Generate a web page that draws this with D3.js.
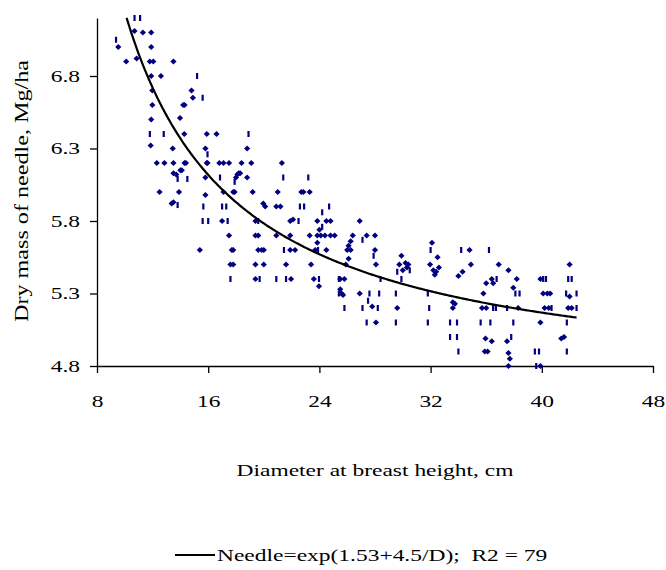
<!DOCTYPE html>
<html>
<head>
<meta charset="utf-8">
<script src="https://cdn.jsdelivr.net/npm/d3@7"></script>
<style>
  body { margin: 0; background: #fff; }
  text { font-family: "Liberation Serif", "Times New Roman", serif; fill: #000; }
</style>
</head>
<body>
<div id="chart"></div>
<script>
// tick labels
const xTicks = [8, 16, 24, 32, 40, 48];
const yTicks = [4.8, 5.3, 5.8, 6.3, 6.8];

// [diameter cm, dry mass], drawn as diamonds
const diamondPoints = [
  [9.53, 7.0], [10.1, 6.9], [10.7, 7.11], [11.3, 7.1], [11.9, 7.1], [10.85, 6.92], [11.9, 7.0],
  [11.8, 6.9], [12.05, 6.9], [11.9, 6.8], [12.6, 6.8], [11.98, 6.7], [11.98, 6.6], [11.9, 6.5],
  [11.86, 6.32], [12.3, 6.2], [12.85, 6.2], [12.5, 6.0], [13.5, 6.9], [14.8, 6.7], [14.9, 6.65],
  [14.2, 6.6], [14.3, 6.6], [13.97, 6.51], [14.28, 6.4], [13.45, 6.3], [13.5, 6.2], [14.3, 6.2],
  [14.4, 6.2], [13.5, 6.13], [13.7, 6.12], [14.0, 6.15], [14.1, 6.15], [13.9, 6.0], [15.9, 6.4],
  [16.6, 6.4], [15.8, 6.3], [15.9, 6.2], [15.95, 6.2], [16.8, 6.2], [17.1, 6.2], [17.5, 6.2],
  [18.4, 6.2], [19.1, 6.2], [18.8, 6.3], [15.8, 6.1], [18.0, 6.1], [18.1, 6.12], [18.2, 6.13],
  [18.3, 6.13], [18.8, 6.1], [21.3, 6.2], [15.8, 5.98], [17.1, 6.0], [17.8, 6.0], [17.9, 6.0],
  [19.2, 6.0], [21.0, 6.0], [22.7, 6.0], [22.85, 6.0], [23.3, 6.0],
  [13.37, 5.92], [13.5, 5.93], [19.96, 5.92], [20.1, 5.9], [20.9, 5.9], [21.2, 5.9], [17.0, 5.8],
  [19.4, 5.8], [21.9, 5.8], [22.1, 5.81], [23.85, 5.8], [24.5, 5.8], [24.8, 5.8], [17.5, 5.7],
  [19.4, 5.7], [19.6, 5.7], [20.9, 5.7], [21.9, 5.7], [23.3, 5.7], [23.85, 5.7], [24.0, 5.74],
  [24.1, 5.7], [24.4, 5.7], [24.8, 5.7], [25.1, 5.7], [23.85, 5.65], [15.4, 5.6], [17.7, 5.6],
  [17.8, 5.6], [19.6, 5.6], [19.85, 5.6], [20.0, 5.6], [21.9, 5.6], [22.25, 5.6], [23.7, 5.6],
  [24.5, 5.6], [17.6, 5.5], [17.8, 5.5], [19.4, 5.5], [20.0, 5.5], [21.6, 5.5], [23.4, 5.5],
  [19.4, 5.4], [21.96, 5.4], [23.6, 5.4], [23.97, 5.35],
  [26.9, 5.8], [27.4, 5.7], [28.0, 5.7], [26.4, 5.7], [26.25, 5.66], [26.1, 5.63], [26.0, 5.6],
  [26.25, 5.6], [26.1, 5.54], [25.9, 5.5], [28.0, 5.6], [28.07, 5.5], [25.5, 5.4], [25.8, 5.4],
  [25.5, 5.33], [25.6, 5.3], [25.7, 5.29], [26.9, 5.3], [27.8, 5.21], [28.07, 5.1], [29.75, 5.5],
  [29.9, 5.56], [30.2, 5.51], [30.4, 5.5], [30.3, 5.48], [30.0, 5.46], [29.6, 5.2], [32.1, 5.65],
  [31.96, 5.5], [32.2, 5.46], [32.3, 5.43], [32.4, 5.45], [32.5, 5.55], [32.6, 5.48], [33.6, 5.24],
  [33.75, 5.23], [33.6, 5.2], [34.0, 5.42], [34.3, 5.45], [34.8, 5.6], [34.9, 5.5], [35.8, 5.3],
  [36.0, 5.37], [35.7, 5.2], [36.0, 5.2], [36.4, 5.4], [36.5, 5.37], [35.95, 4.99], [36.4, 4.97],
  [35.9, 4.9], [36.1, 4.9], [36.9, 5.5], [37.6, 5.46], [37.95, 5.34], [38.2, 5.4], [38.3, 5.2],
  [37.5, 4.97], [37.6, 4.89], [37.7, 4.85], [37.6, 4.8], [39.9, 5.4], [40.1, 5.3], [40.4, 5.3],
  [40.6, 5.3], [40.2, 5.2], [40.5, 5.2], [39.9, 5.1], [39.9, 4.8], [42.0, 5.5], [42.0, 5.28],
  [41.9, 5.2], [42.15, 5.2], [41.4, 4.99], [41.6, 5.0]
];

// points that show up as thin vertical dashes in the picture
const dashPoints = [
  [9.37, 7.05], [10.7, 7.2], [11.1, 7.2], [11.8, 6.4], [12.8, 6.4], [15.2, 6.8], [15.6, 6.65],
  [13.8, 6.09], [14.5, 6.09], [15.95, 6.26], [18.9, 6.4], [16.85, 6.1], [17.9, 6.07], [21.4, 6.1],
  [23.2, 6.1],
  [13.8, 5.91], [15.65, 5.9], [17.0, 5.9], [17.3, 5.9], [22.6, 5.9], [22.9, 5.9], [24.2, 5.86],
  [24.7, 5.9], [15.6, 5.8], [16.0, 5.8], [17.4, 5.8], [19.6, 5.8], [22.5, 5.8], [24.2, 5.76],
  [21.45, 5.6], [23.9, 5.6], [17.6, 5.4], [19.7, 5.4], [20.9, 5.4], [21.6, 5.4], [23.97, 5.4],
  [25.4, 5.4], [25.4, 5.3],
  [27.1, 5.67], [27.9, 5.56], [28.4, 5.4], [25.8, 5.2], [27.6, 5.3], [27.5, 5.25], [27.1, 5.2],
  [28.2, 5.2], [28.3, 5.3], [27.4, 5.1], [29.5, 5.1], [30.5, 5.46], [29.6, 5.45], [29.9, 5.4],
  [29.5, 5.3], [31.8, 5.3], [31.8, 5.1], [31.9, 5.2], [32.0, 5.6], [33.4, 5.1], [33.9, 5.1],
  [33.4, 5.0], [33.9, 5.0], [34.0, 4.9], [34.2, 5.6], [35.6, 5.1], [36.2, 5.6], [36.75, 5.4],
  [36.5, 5.2], [36.7, 5.2], [36.3, 5.1], [37.5, 5.2], [38.1, 5.3], [38.4, 5.3], [37.95, 5.1],
  [37.8, 5.0], [40.1, 5.4], [40.3, 5.4], [40.7, 5.2], [39.5, 4.9], [39.8, 4.9], [39.6, 4.8],
  [41.9, 5.4], [42.15, 5.4], [41.75, 5.3], [42.5, 5.3], [42.5, 5.2], [41.8, 5.1], [41.8, 4.9]
];

// fitted model from the legend: Needle = exp(a + b/D)
const fitA = 1.53;
const fitB = 4.5;
const fitFrom = 10.13;
const fitTo = 42.5;
const legendLabel = "Needle=exp(1.53+4.5/D);  R2 = 79";

const width = 666, height = 570;
const pointColor = "#000080";
const stretchX = 1.38;   // the picture's text is wider than plain Times

const svg = d3.select("#chart").append("svg")
  .attr("width", width)
  .attr("height", height);

const x = d3.scaleLinear().domain([8, 48]).range([97, 653]);
const y = d3.scaleLinear().domain([4.8, 7.2]).range([366, 18]);

function stretch(sel, k) {
  sel.each(function() {
    const w = this.getComputedTextLength();
    d3.select(this).attr("textLength", w * k).attr("lengthAdjust", "spacingAndGlyphs");
  });
}

// axes
const yAxis = svg.append("g")
  .attr("transform", `translate(${x(8)},0)`)
  .call(d3.axisLeft(y).tickValues(yTicks).tickFormat(d3.format(".1f"))
    .tickSize(7).tickSizeOuter(0).tickPadding(10));

const xAxis = svg.append("g")
  .attr("transform", `translate(0,${y(4.8)})`)
  .call(d3.axisBottom(x).tickValues(xTicks).tickSize(7).tickSizeOuter(0).tickPadding(22));

[yAxis, xAxis].forEach(g => {
  g.selectAll("path, line").attr("stroke", "#000").attr("stroke-width", 1.3);
  g.selectAll("text")
    .attr("font-family", "Liberation Serif, serif")
    .attr("font-size", 17)
    .attr("fill", "#000")
    .call(stretch, stretchX);
});

// points
const marks = svg.append("g");

marks.selectAll("path.diamond")
  .data(diamondPoints)
  .enter()
  .append("path")
  .classed("diamond", true)
  .attr("d", d => {
    const cx = x(d[0]), cy = y(d[1]);
    return `M${cx},${cy - 3}L${cx + 3.1},${cy}L${cx},${cy + 3}L${cx - 3.1},${cy}Z`;
  })
  .style("fill", pointColor);

marks.selectAll("rect.dash")
  .data(dashPoints)
  .enter()
  .append("rect")
  .classed("dash", true)
  .attr("x", d => x(d[0]) - 1.1)
  .attr("y", d => y(d[1]) - 3)
  .attr("width", 2.2)
  .attr("height", 6)
  .style("fill", pointColor);

// fitted curve
const fitD = d3.range(fitFrom, fitTo, 0.1).concat([fitTo]);
const lineGenerator = d3.line()
  .x(D => x(D))
  .y(D => y(Math.exp(fitA + fitB / D)));

svg.append("path")
  .attr("d", lineGenerator(fitD))
  .attr("fill", "none")
  .attr("stroke", "#000")
  .attr("stroke-width", 2.2);

// axis titles
svg.append("text")
  .attr("x", (x(8) + x(48)) / 2)
  .attr("y", 476)
  .attr("text-anchor", "middle")
  .attr("font-size", 17)
  .text("Diameter at breast height, cm")
  .call(stretch, stretchX);

svg.append("text")
  .attr("transform", "translate(28,191) rotate(-90)")
  .attr("text-anchor", "middle")
  .attr("font-size", 19)
  .attr("textLength", 262)
  .attr("lengthAdjust", "spacingAndGlyphs")
  .text("Dry mass of needle, Mg/ha");

// legend
const legend = svg.append("g");
legend.append("line")
  .attr("x1", 175).attr("x2", 215)
  .attr("y1", 555).attr("y2", 555)
  .attr("stroke", "#000")
  .attr("stroke-width", 2);
legend.append("text")
  .attr("x", 217)
  .attr("y", 561)
  .attr("font-size", 17)
  .style("white-space", "pre")
  .text(legendLabel)
  .call(stretch, stretchX);
</script>
</body>
</html>
